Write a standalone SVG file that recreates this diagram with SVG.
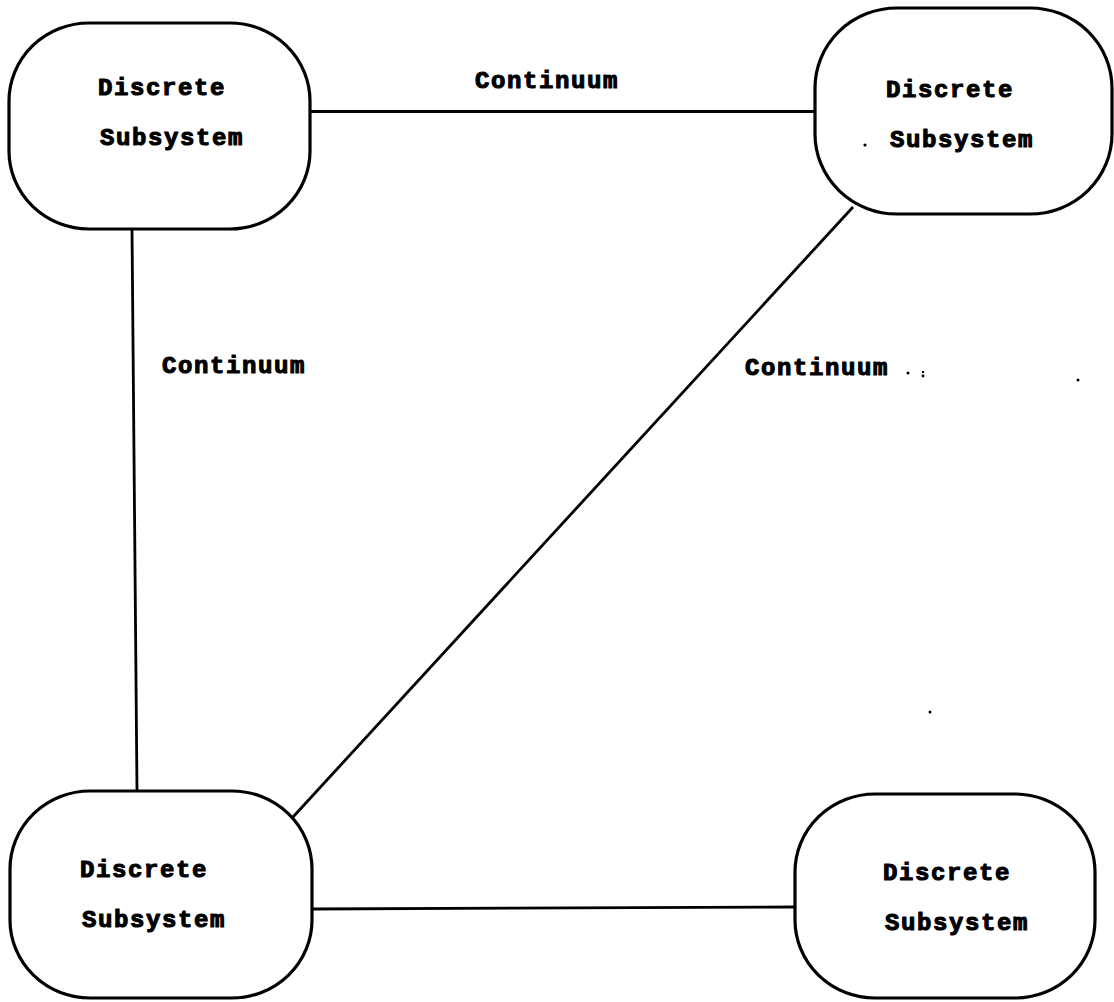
<svg xmlns="http://www.w3.org/2000/svg" width="1114" height="1002" viewBox="0 0 1114 1002">
<style>
.node{fill:#fff;stroke:#000;stroke-width:3.2}
.t{font-family:"Liberation Mono","DejaVu Sans Mono",monospace;font-weight:bold;font-size:24px;letter-spacing:1.6px;fill:#000;stroke:#000;stroke-width:1.1;stroke-linejoin:round}
.c{stroke:#000;stroke-width:2.8;fill:none}
</style>
<rect width="1114" height="1002" fill="#fff"/>
<g id="connectors">
<line class="c" x1="310" y1="111.5" x2="815" y2="111.5"/>
<line class="c" x1="132" y1="229" x2="137" y2="791"/>
<line class="c" x1="853" y1="207" x2="293" y2="817"/>
<line class="c" x1="312" y1="909" x2="795" y2="907"/>
<text class="t" x="475" y="88">Continuum</text>
<text class="t" x="162" y="373">Continuum</text>
<text class="t" x="745" y="375">Continuum</text>
</g>
<g id="node-tl">
<rect class="node" x="9" y="23" width="301" height="206" rx="80" ry="78"/>
<text class="t" x="98" y="95">Discrete</text>
<text class="t" x="100" y="145">Subsystem</text>
</g>
<g id="node-tr">
<rect class="node" x="815" y="8" width="297" height="206" rx="82" ry="80"/>
<text class="t" x="886" y="97">Discrete</text>
<text class="t" x="890" y="147">Subsystem</text>
</g>
<g id="node-bl">
<rect class="node" x="10" y="791" width="302" height="207" rx="80" ry="78"/>
<text class="t" x="80" y="877">Discrete</text>
<text class="t" x="82" y="927">Subsystem</text>
</g>
<g id="node-br">
<rect class="node" x="795" y="794" width="300" height="204" rx="80" ry="78"/>
<text class="t" x="883" y="880">Discrete</text>
<text class="t" x="885" y="930">Subsystem</text>
</g>
<g id="specks" fill="#000">
<circle cx="865" cy="145" r="1.6"/>
<circle cx="908" cy="373" r="1.5"/>
<circle cx="923" cy="372" r="1.2"/>
<circle cx="923" cy="376" r="1.4"/>
<circle cx="1078" cy="380" r="1.5"/>
<circle cx="930" cy="712" r="1.5"/>
</g>
</svg>
